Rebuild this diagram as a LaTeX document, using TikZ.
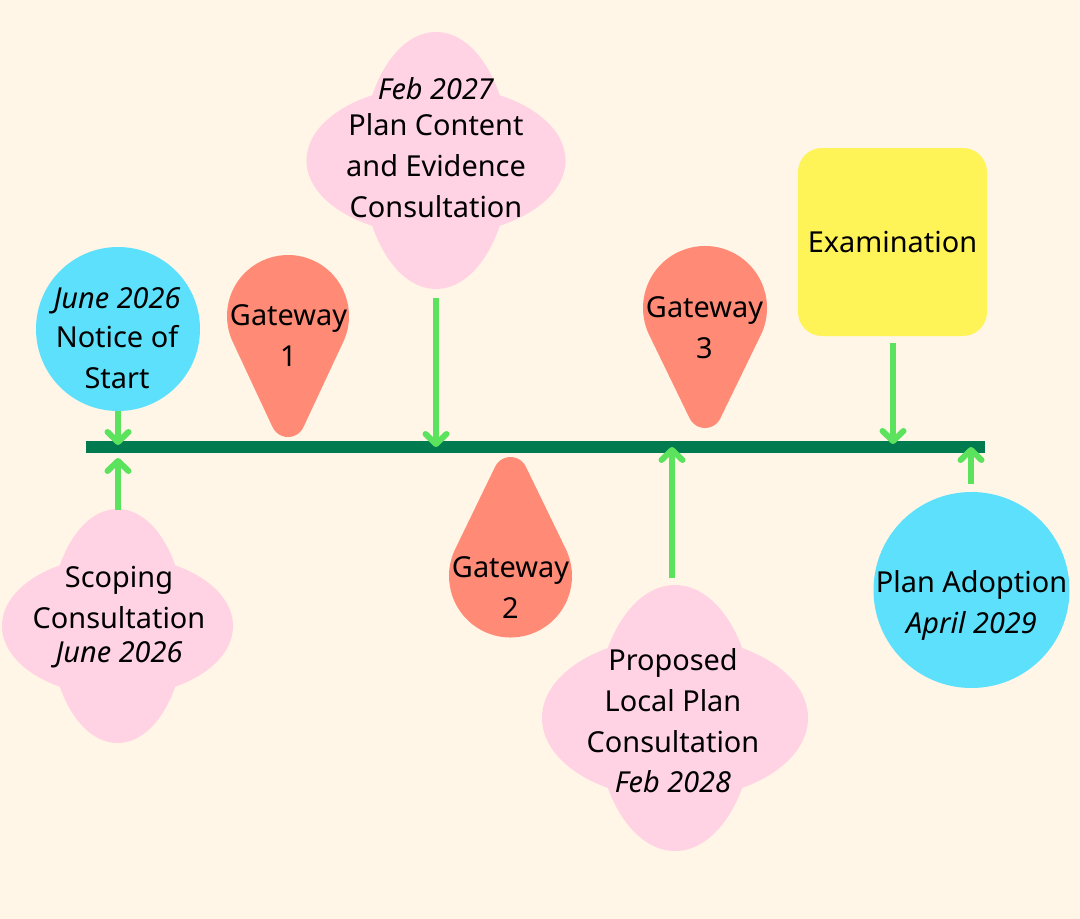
\documentclass[tikz,border=0pt]{standalone}
\usepackage{fontspec}
\setmainfont{Noto Sans}
\usetikzlibrary{arrows.meta}
\definecolor{bgcream}{HTML}{FFF6E7}
\definecolor{circcyan}{HTML}{5CE0FB}
\definecolor{cloudpink}{HTML}{FFD3E3}
\definecolor{dropsalmon}{HTML}{FF8A76}
\definecolor{examyellow}{HTML}{FFF457}
\definecolor{linegreen}{HTML}{007A4F}
\definecolor{arrowgreen}{HTML}{5CE35E}
\tikzset{
  lbl/.style={align=center, anchor=base, font=\fontsize{29}{41}\selectfont, inner sep=0pt},
  arr/.style={draw=arrowgreen, line width=6bp, -{Straight Barb[length=10bp,width=21bp,round]}},
  cloudfill/.style={fill=cloudpink},
  dropfill/.style={fill=dropsalmon},
}
% teardrop: cx, cy, R, d (centre to tip centre), r (tip radius), rotation
\newcommand\dropshape[6]{%
  \pgfmathsetmacro\dbeta{asin((#3-#5)/#4)}%
  \pgfmathsetmacro\dgamma{180-\dbeta}%
  \pgfmathsetmacro\ddelta{-180-\dbeta}%
  \begin{scope}[shift={(#1,#2)},rotate=#6]
    \fill[dropfill] (\dbeta:#3) arc[start angle=\dbeta, end angle=\ddelta, radius=#3]
      -- ([shift={(0,#4)}]\dgamma:#5) arc[start angle=\dgamma, end angle=\dbeta, radius=#5] -- cycle;
  \end{scope}}
% cloud: cx, cy, horizontal ellipse radii, vertical ellipse radii
\newcommand\cloudshape[6]{%
  \fill[cloudfill] (#1,#2) ellipse[x radius=#3, y radius=#4];
  \fill[cloudfill] (#1,#2) ellipse[x radius=#5, y radius=#6];}
\begin{document}
\begin{tikzpicture}[x=1bp,y=-1bp]
\fill[bgcream] (0,0) rectangle (1080,919);
\useasboundingbox (0,0) rectangle (1080,919);

% timeline
\node[fill=linegreen, minimum width=899bp, minimum height=12bp, inner sep=0pt] (tl) at (535.5,447) {};

% shapes
\node[circle, fill=circcyan, minimum size=164bp, inner sep=0pt] (start) at (118,329) {};
\node[circle, fill=circcyan, minimum size=196bp, inner sep=0pt] (adopt) at (971.5,590) {};
\node[fill=examyellow, rounded corners=24bp, minimum width=189bp, minimum height=188bp, inner sep=0pt,
      font=\fontsize{29}{41}\selectfont] (exam) at (892.5,242) {Examination};

\cloudshape{436}{160.5}{129.5}{75}{74}{128.5}
\cloudshape{117.5}{626}{115.5}{70}{67.5}{117}
\cloudshape{675}{718}{133}{81}{79}{133}

\dropshape{288}{316}{61}{104}{17}{0}
\dropshape{705}{308}{62}{103}{17}{0}
\dropshape{510.5}{576}{61.5}{102}{17}{180}

% texts (anchor = baseline of the last line)
\node[lbl] (startT) at (117,388) {\textit{June 2026}\\[-2bp]Notice of\\Start};
\node[lbl] (planT) at (436,217) {\textit{Feb 2027}\\[-5bp]Plan Content\\and Evidence\\Consultation};
\node[lbl] (scopeT) at (119,662) {Scoping\\Consultation\\[-7bp]\textit{June 2026}};
\node[lbl] (propT) at (673,792) {Proposed\\Local Plan\\Consultation\\[-1bp]\textit{Feb 2028}};
\node[lbl] (adoptT) at (971.5,633) {Plan Adoption\\\textit{April 2029}};
\node[lbl] (g1) at (288.5,366) {Gateway\\1};
\node[lbl] (g2) at (510.5,618) {Gateway\\2};
\node[lbl] (g3) at (704.5,358) {Gateway\\3};

% connector ends
\coordinate (planS) at (436,298);
\coordinate (scopeS) at (118,510);
\coordinate (propS) at (672,578);
\coordinate (examS) at (893,343);
\coordinate (adoptS) at (971,484);
\coordinate (e1) at (118,445);
\coordinate (e2) at (118,458);
\coordinate (e3) at (436,447);
\coordinate (e4) at (672,447);
\coordinate (e5) at (893,444);
\coordinate (e6) at (971,447);

\draw[arr] (start.south) -- (e1);
\draw[arr] (scopeS) -- (e2);
\draw[arr] (planS) -- (e3);
\draw[arr] (propS) -- (e4);
\draw[arr] (examS) -- (e5);
\draw[arr] (adoptS) -- (e6);
\end{tikzpicture}
\end{document}
